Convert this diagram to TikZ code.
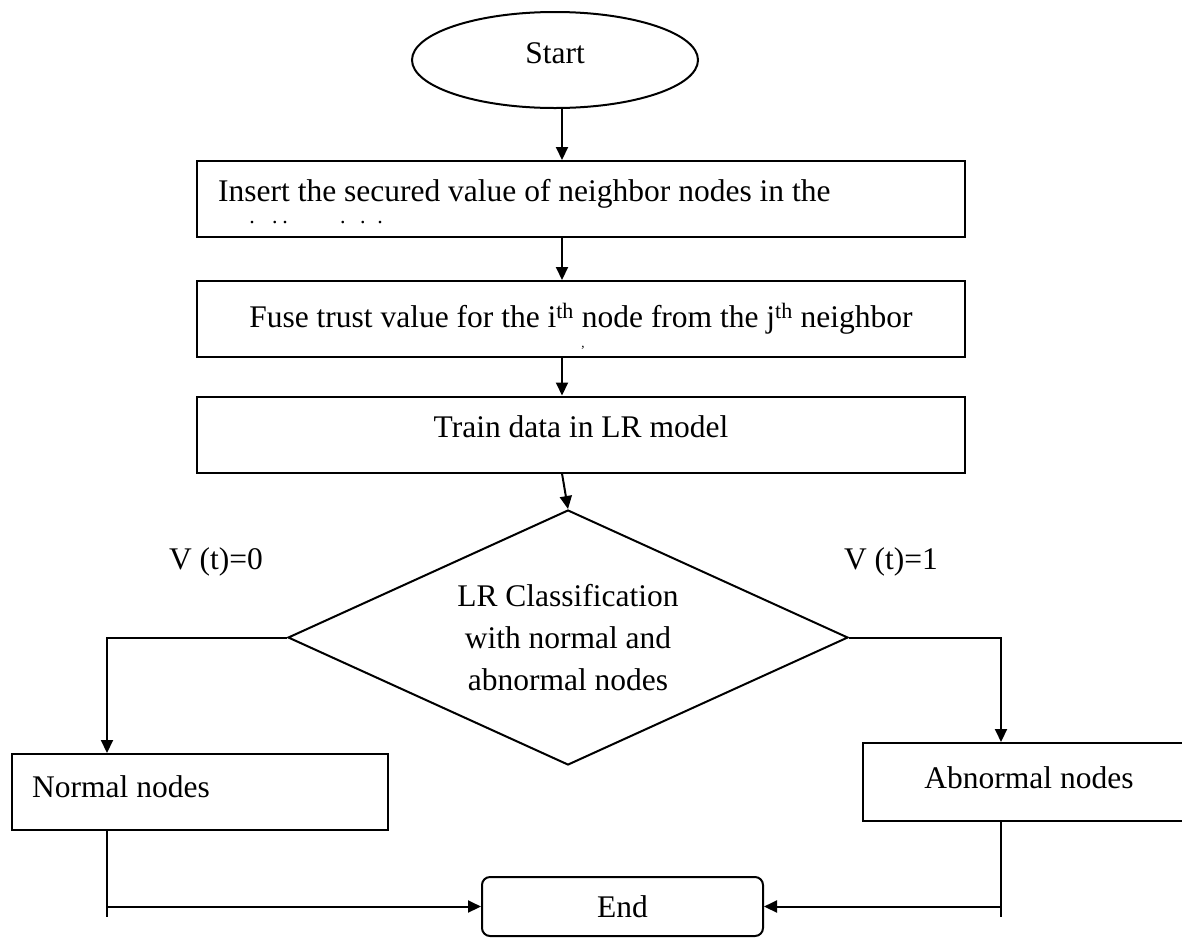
\documentclass[tikz,border=0pt]{standalone}
\usepackage{fontspec}
\setmainfont{Liberation Serif}
\usetikzlibrary{shapes.geometric,arrows.meta,calc}
\begin{document}
\begin{tikzpicture}[x=1pt,y=-1pt,
  every node/.style={font=\fontsize{31.5}{42}\selectfont, inner sep=0pt},
  stepbox/.style={draw, line width=2pt, rectangle, minimum width=768pt, minimum height=76pt},
  sidebox/.style={draw, line width=2pt, rectangle},
  decision/.style={draw, line width=2pt, diamond, aspect=2.2, minimum width=560pt, minimum height=255pt, align=center},
  terminal/.style={draw, line width=2pt, ellipse, minimum width=286pt, minimum height=96pt},
  endbox/.style={draw, line width=2pt, rectangle, rounded corners=8pt, minimum width=281pt, minimum height=59pt},
  conn/.style={line width=2pt},
  arr/.style={conn, -{Triangle[length=13pt,width=12pt]}}
]
\useasboundingbox (0,0) rectangle (1182,938);
\clip (0,0) rectangle (1182,938);
\fill[white] (0,0) rectangle (1182,938);

% main column
\node[terminal, text depth=14pt] (start) at (555,60) {Start};
\node[stepbox] (b1) at (581,199) {};
\node[anchor=base west] (b1text) at (218,201) {Insert the secured value of neighbor nodes in the};
\node[font=\fontsize{22}{22}\selectfont] (b1rest) at (316,223)
  {.\hspace{17.5pt}.\hspace{4.5pt}.\hspace{52.5pt}.\hspace{14.5pt}.\hspace{11.5pt}.};
\node[stepbox] (b2) at (581,319)
  {Fuse trust value for the i\textsuperscript{th} node from the j\textsuperscript{th} neighbor};
\node[font=\fontsize{13}{13}\selectfont, anchor=base] (b2rest) at (583,347) {,};
\node[stepbox, text depth=15pt] (b3) at (581,434.5) {Train data in LR model};

% decision
\node[decision] (dia) at (568,637.5) {LR Classification\\with normal and\\abnormal nodes};
\node (v0) at (216,562) {V (t)=0};
\node (v1) at (891,562) {V (t)=1};

% outcomes
\node[sidebox, minimum width=376pt, minimum height=76pt] (normal) at (200,792) {};
\node[anchor=base west] (normaltext) at (32,797) {Normal nodes};
\node[sidebox, minimum width=332pt, minimum height=78pt] (abn) at (1029,782) {};
\node[anchor=base] (abntext) at (1029,788) {Abnormal nodes};
\node[endbox] (endn) at (622.5,906.5) {End};

% connector guides
\coordinate (spine) at (562,0);
\coordinate (lb) at (107,0);
\coordinate (rb) at (1001,0);

\draw[arr] (spine |- start.south) -- (spine |- b1.north);
\draw[arr] (spine |- b1.south) -- (spine |- b2.north);
\draw[arr] (spine |- b2.south) -- (spine |- b3.north);
\draw[arr] (spine |- b3.south) -- (dia.north);
\draw[arr] (dia.west) -| (lb |- normal.north);
\draw[arr] (dia.east) -| (rb |- abn.north);
\draw[conn] (lb |- normal.south) -- ($(lb |- endn.west)+(0,10)$);
\draw[arr] (lb |- endn.west) -- (endn.west);
\draw[conn] (rb |- abn.south) -- ($(rb |- endn.east)+(0,10)$);
\draw[arr] (rb |- endn.east) -- (endn.east);
\end{tikzpicture}
\end{document}
